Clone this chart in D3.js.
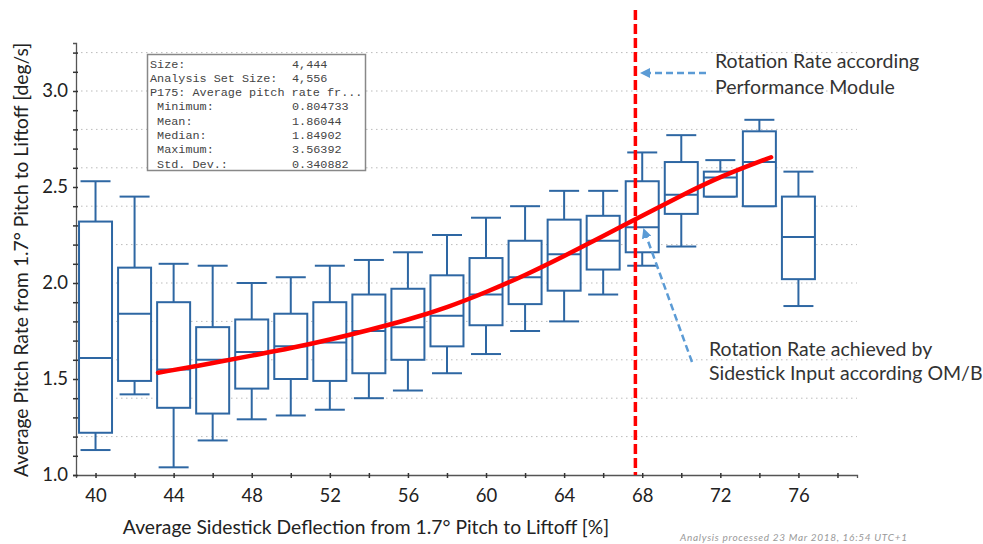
<!DOCTYPE html>
<html>
<head>
<meta charset="utf-8">
<script src="https://cdn.jsdelivr.net/npm/d3@7"></script>
<style>
  body { margin: 0; background: #fff; }
  text { font-family: Lato, "Open Sans", sans-serif; }
</style>
</head>
<body>
<svg id="canvas" width="983" height="544"></svg>
<script>
// box statistics per deflection bin
let bins   = [40, 42, 44, 46, 48, 50, 52, 54, 56, 58, 60, 62, 64, 66, 68, 70, 72, 74, 76]
let whiskLo = [1.13, 1.42, 1.04, 1.18, 1.29, 1.31, 1.34, 1.40, 1.44, 1.53, 1.63, 1.75, 1.80, 1.94, 2.09, 2.19, 2.45, 2.40, 1.88]
let q1      = [1.22, 1.49, 1.35, 1.32, 1.45, 1.50, 1.49, 1.53, 1.60, 1.67, 1.78, 1.89, 1.96, 2.07, 2.16, 2.36, 2.45, 2.40, 2.02]
let median  = [1.61, 1.84, 1.55, 1.60, 1.64, 1.67, 1.69, 1.75, 1.77, 1.83, 1.94, 2.03, 2.15, 2.22, 2.29, 2.46, 2.55, 2.63, 2.24]
let q3      = [2.32, 2.08, 1.90, 1.77, 1.81, 1.84, 1.90, 1.94, 1.97, 2.04, 2.13, 2.22, 2.33, 2.35, 2.53, 2.63, 2.58, 2.79, 2.45]
let whiskHi = [2.53, 2.45, 2.10, 2.09, 2.00, 2.03, 2.09, 2.12, 2.16, 2.25, 2.34, 2.40, 2.48, 2.48, 2.68, 2.77, 2.64, 2.85, 2.58]

// fitted trend (red curve)
let fitX = [43.2, 46, 48, 50, 52, 54, 56, 58, 60, 62, 64, 66, 68, 70, 72, 74.6]
let fitY = [1.533, 1.582, 1.622, 1.66, 1.705, 1.755, 1.808, 1.872, 1.952, 2.04, 2.14, 2.245, 2.35, 2.455, 2.555, 2.655]

let perfModuleX = 67.65

let xTickLabels = [40, 44, 48, 52, 56, 60, 64, 68, 72, 76]
let yTickLabels = [1.0, 1.5, 2.0, 2.5, 3.0]
let gridValues = [1.2, 1.4, 1.6, 1.8, 2.0, 2.2, 2.4, 2.6, 2.8, 3.0, 3.2]

let statLabels = ['Size:', 'Analysis Set Size:', 'P175: Average pitch rate fr...', ' Minimum:', ' Mean:', ' Median:', ' Maximum:', ' Std. Dev.:']
let statValues = ['4,444', '4,556', '', '0.804733', '1.86044', '1.84902', '3.56392', '0.340882']

let canvas = d3.select('#canvas')

let xScale = d3.scaleLinear().domain([39, 79]).range([76, 857])
let yScale = d3.scaleLinear().domain([1.0, 3.25]).range([475, 43])

let boxColor = '#2e67a3'
let axisColor = '#555'

// grid
canvas.append('g')
      .selectAll('line')
      .data(gridValues)
      .enter()
      .append('line')
      .attr('x1', xScale(39))
      .attr('x2', xScale(79))
      .attr('y1', (d) => yScale(d))
      .attr('y2', (d) => yScale(d))
      .attr('stroke', '#bbb')
      .attr('stroke-width', 1)
      .attr('stroke-dasharray', '1.5,3.5')

// x axis
let xAxis = d3.axisBottom(xScale)
              .tickValues(d3.range(40, 79, 2))
              .tickSize(3)
              .tickFormat((d) => xTickLabels.includes(d) ? d : '')
let gx = canvas.append('g')
               .attr('transform', 'translate(0,' + yScale(1.0) + ')')
               .call(xAxis)
gx.select('.domain').attr('stroke', axisColor).attr('stroke-width', 1.3)
gx.selectAll('.tick line').attr('stroke', '#333').attr('stroke-width', 1.5).attr('y1', -2)
gx.selectAll('.tick text')
  .attr('y', 14)
  .attr('font-size', 18.5)
  .attr('fill', '#222')
  .style('font-family', 'Lato, sans-serif')

// y axis
let yAxis = d3.axisLeft(yScale)
              .tickValues(d3.range(1.0, 3.25, 0.1).map((d) => +d.toFixed(1)))
              .tickSize(3)
              .tickFormat((d) => yTickLabels.includes(d) ? d.toFixed(1) : '')
let gy = canvas.append('g')
               .attr('transform', 'translate(' + xScale(39) + ',0)')
               .call(yAxis)
gy.select('.domain').attr('stroke', axisColor).attr('stroke-width', 1.3)
gy.selectAll('.tick line').attr('stroke', '#333').attr('stroke-width', 1.5).attr('x1', 2)
gy.selectAll('.tick text')
  .attr('x', -8)
  .attr('font-size', 18.5)
  .attr('fill', '#222')
  .style('font-family', 'Lato, sans-serif')

// boxes
let boxW = 33
let capW = 30
let boxes = canvas.append('g')
                  .selectAll('g')
                  .data(bins)
                  .enter()
                  .append('g')
                  .attr('stroke', boxColor)
                  .attr('stroke-width', 2)
                  .attr('fill', 'none')

boxes.append('line')
     .attr('x1', (d) => xScale(d))
     .attr('x2', (d) => xScale(d))
     .attr('y1', (d, i) => yScale(whiskHi[i]))
     .attr('y2', (d, i) => yScale(q3[i]))
boxes.append('line')
     .attr('x1', (d) => xScale(d))
     .attr('x2', (d) => xScale(d))
     .attr('y1', (d, i) => yScale(q1[i]))
     .attr('y2', (d, i) => yScale(whiskLo[i]))
boxes.append('line')
     .attr('x1', (d) => xScale(d) - capW / 2)
     .attr('x2', (d) => xScale(d) + capW / 2)
     .attr('y1', (d, i) => yScale(whiskHi[i]))
     .attr('y2', (d, i) => yScale(whiskHi[i]))
boxes.append('line')
     .attr('x1', (d) => xScale(d) - capW / 2)
     .attr('x2', (d) => xScale(d) + capW / 2)
     .attr('y1', (d, i) => yScale(whiskLo[i]))
     .attr('y2', (d, i) => yScale(whiskLo[i]))
boxes.append('rect')
     .attr('x', (d) => xScale(d) - boxW / 2)
     .attr('width', boxW)
     .attr('y', (d, i) => yScale(q3[i]))
     .attr('height', (d, i) => yScale(q1[i]) - yScale(q3[i]))
     .attr('fill', '#fff')
boxes.append('line')
     .attr('x1', (d) => xScale(d) - boxW / 2)
     .attr('x2', (d) => xScale(d) + boxW / 2)
     .attr('y1', (d, i) => yScale(median[i]))
     .attr('y2', (d, i) => yScale(median[i]))

// fitted curve
let fitLine = d3.line()
                .x((d) => xScale(d[0]))
                .y((d) => yScale(d[1]))
                .curve(d3.curveBasis)
canvas.append('path')
      .attr('d', fitLine(d3.zip(fitX, fitY)))
      .attr('fill', 'none')
      .attr('stroke', '#ff0000')
      .attr('stroke-width', 4.5)
      .attr('stroke-linecap', 'round')

// performance module vertical line
canvas.append('line')
      .attr('x1', xScale(perfModuleX))
      .attr('x2', xScale(perfModuleX))
      .attr('y1', 10)
      .attr('y2', yScale(1.0))
      .attr('stroke', '#ff0000')
      .attr('stroke-width', 3.5)
      .attr('stroke-dasharray', '10,4')

// stats box
let stats = canvas.append('g')
stats.append('rect')
     .attr('x', 147.5)
     .attr('y', 54.5)
     .attr('width', 218)
     .attr('height', 116)
     .attr('fill', '#fff')
     .attr('stroke', '#888')
     .attr('stroke-width', 1.5)
stats.selectAll('text.lab')
     .data(statLabels)
     .enter()
     .append('text')
     .attr('class', 'lab')
     .attr('x', 150)
     .attr('y', (d, i) => 67.5 + i * 14.3)
     .attr('font-size', 11.8)
     .attr('fill', '#444')
     .attr('xml:space', 'preserve')
     .style('font-family', '"Liberation Mono", "DejaVu Sans Mono", monospace')
     .text((d) => d)
stats.selectAll('text.val')
     .data(statValues)
     .enter()
     .append('text')
     .attr('class', 'val')
     .attr('x', 292)
     .attr('y', (d, i) => 67.5 + i * 14.3)
     .attr('font-size', 11.8)
     .attr('fill', '#444')
     .style('font-family', '"Liberation Mono", "DejaVu Sans Mono", monospace')
     .text((d) => d)

// annotations
let defs = canvas.append('defs')
defs.append('marker')
    .attr('id', 'arrow')
    .attr('viewBox', '0 0 10 10')
    .attr('refX', 8)
    .attr('refY', 5)
    .attr('markerWidth', 4)
    .attr('markerHeight', 4)
    .attr('orient', 'auto')
    .append('path')
    .attr('d', 'M0,0 L10,5 L0,10 z')
    .attr('fill', '#5b9bd5')

canvas.append('line')
      .attr('x1', 706).attr('y1', 73)
      .attr('x2', 642).attr('y2', 73)
      .attr('stroke', '#5b9bd5')
      .attr('stroke-width', 2.5)
      .attr('stroke-dasharray', '7,4')
      .attr('marker-end', 'url(#arrow)')
canvas.append('line')
      .attr('x1', 692).attr('y1', 362)
      .attr('x2', 644).attr('y2', 230)
      .attr('stroke', '#5b9bd5')
      .attr('stroke-width', 2.5)
      .attr('stroke-dasharray', '7,4')
      .attr('marker-end', 'url(#arrow)')

let noteStyle = (sel) => sel.attr('font-size', 19.5).attr('fill', '#333')
noteStyle(canvas.append('text').attr('x', 715).attr('y', 68).text('Rotation Rate according'))
noteStyle(canvas.append('text').attr('x', 715).attr('y', 94).text('Performance Module'))
noteStyle(canvas.append('text').attr('x', 709).attr('y', 356).text('Rotation Rate achieved by'))
noteStyle(canvas.append('text').attr('x', 709).attr('y', 380).text('Sidestick Input according OM/B'))

// axis titles
canvas.append('text')
      .attr('x', 366)
      .attr('y', 534)
      .attr('text-anchor', 'middle')
      .attr('font-size', 19.3)
      .attr('fill', '#222')
      .text('Average Sidestick Deflection from 1.7° Pitch to Liftoff [%]')
canvas.append('text')
      .attr('transform', 'translate(28,260) rotate(-90)')
      .attr('text-anchor', 'middle')
      .attr('font-size', 19.3)
      .attr('fill', '#222')
      .text('Average Pitch Rate from 1.7° Pitch to Liftoff [deg/s]')

canvas.append('text')
      .attr('x', 680)
      .attr('y', 541)
      .attr('font-size', 10)
      .attr('font-style', 'italic')
      .attr('fill', '#999')
      .attr('textLength', 227)
      .text('Analysis processed 23 Mar 2018, 16:54 UTC+1')
</script>
</body>
</html>
